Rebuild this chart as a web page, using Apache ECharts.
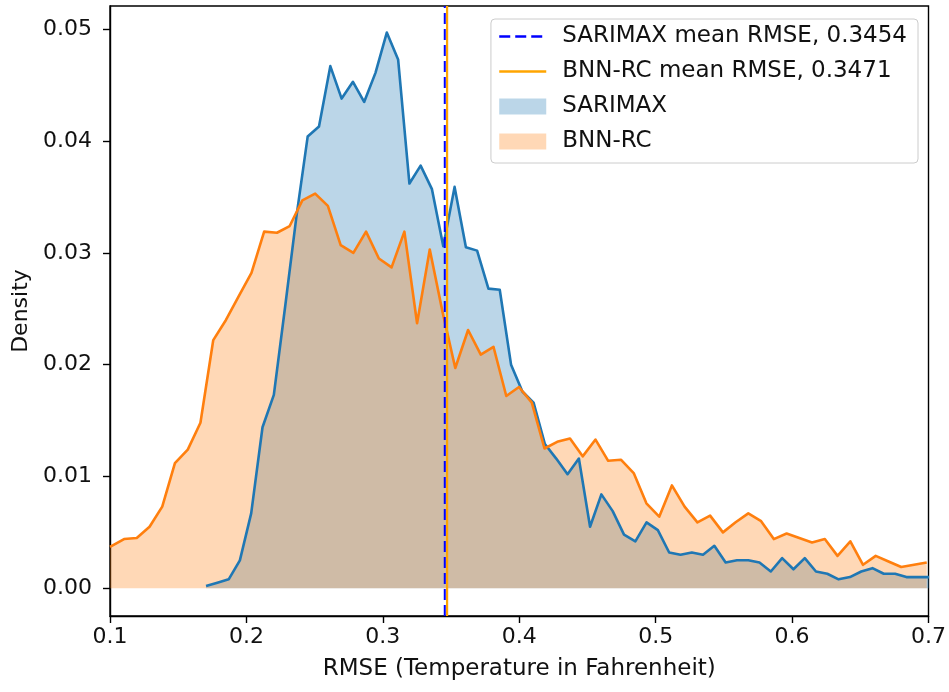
<!DOCTYPE html>
<html>
<head>
<meta charset="utf-8">
<script src="https://cdn.jsdelivr.net/npm/echarts@6/dist/echarts.min.js"></script>
<style>
  html, body { margin: 0; padding: 0; background: #ffffff; }
  #chart { width: 949px; height: 692px; }
</style>
</head>
<body>
<div id="chart"></div>
<script>
// Histogram bin centres (RMSE, degrees F) and normalised densities per model
const sarimaxRmse = [0.1704,0.1787,0.1870,0.1952,0.2035,0.2118,0.2201,0.2284,0.2366,0.2449,
  0.2532,0.2615,0.2698,0.2781,0.2863,0.2946,0.3029,0.3112,0.3195,0.3277,
  0.3360,0.3443,0.3526,0.3609,0.3691,0.3774,0.3857,0.3940,0.4023,0.4105,
  0.4188,0.4271,0.4354,0.4437,0.4519,0.4602,0.4685,0.4768,0.4851,0.4933,
  0.5016,0.5099,0.5182,0.5265,0.5347,0.5430,0.5513,0.5596,0.5679,0.5761,
  0.5844,0.5927,0.6010,0.6093,0.6175,0.6258,0.6341,0.6424,0.6507,0.6589,
  0.6672,0.6755,0.6838,0.6921,0.7004];
const sarimaxDensity = [0.0002,0.0005,0.0008,0.0025,0.0067,0.0144,0.0173,0.0252,0.0332,0.0404,
  0.0413,0.0467,0.0438,0.0453,0.0435,0.0461,0.0497,0.0473,0.0362,0.0378,
  0.0357,0.0306,0.0359,0.0305,0.0302,0.0268,0.0267,0.0200,0.0176,0.0166,
  0.0129,0.0116,0.0102,0.0116,0.0055,0.0084,0.0069,0.0048,0.0042,0.0059,
  0.0052,0.0032,0.0030,0.0032,0.0030,0.0038,0.0023,0.0025,0.0025,0.0023,
  0.0015,0.0027,0.0017,0.0027,0.0015,0.0013,0.0008,0.0010,0.0015,0.0018,
  0.0013,0.0013,0.0010,0.0010,0.0010];

const bnnRmse = [0.1000,0.1103,0.1196,0.1290,0.1383,0.1476,0.1570,0.1663,0.1757,0.1850,
  0.1943,0.2037,0.2130,0.2224,0.2317,0.2410,0.2504,0.2597,0.2691,0.2784,
  0.2877,0.2971,0.3064,0.3158,0.3251,0.3344,0.3438,0.3531,0.3625,0.3718,
  0.3811,0.3905,0.3998,0.4092,0.4185,0.4278,0.4372,0.4465,0.4559,0.4652,
  0.4745,0.4839,0.4932,0.5026,0.5119,0.5212,0.5306,0.5399,0.5493,0.5586,
  0.5679,0.5773,0.5866,0.5960,0.6053,0.6146,0.6240,0.6333,0.6427,0.6520,
  0.6613,0.6707,0.6800,0.6894,0.6987];
const bnnDensity = [0.0037,0.0044,0.0045,0.0055,0.0073,0.0112,0.0124,0.0148,0.0222,0.0240,
  0.0261,0.0282,0.0319,0.0318,0.0324,0.0347,0.0353,0.0342,0.0307,0.0300,
  0.0319,0.0295,0.0287,0.0319,0.0237,0.0303,0.0247,0.0197,0.0231,0.0209,
  0.0216,0.0172,0.0180,0.0166,0.0125,0.0131,0.0134,0.0118,0.0133,0.0114,
  0.0115,0.0103,0.0076,0.0064,0.0092,0.0073,0.0059,0.0065,0.0050,0.0059,
  0.0067,0.0060,0.0044,0.0049,0.0045,0.0041,0.0044,0.0029,0.0042,0.0021,
  0.0029,0.0024,0.0019,0.0021,0.0023];

// Mean RMSE of each model
const sarimaxMean = 0.3454;
const bnnMean = 0.3471;

// Axis limits and tick labels
const xLimits = [0.1, 0.7];
const yLimits = [-0.00248, 0.05208];
const xTicks = [0.1, 0.2, 0.3, 0.4, 0.5, 0.6, 0.7];
const yTicks = [0.00, 0.01, 0.02, 0.03, 0.04, 0.05];

const BLUE = '#1f77b4';
const ORANGE = '#ff7f0e';
const FONT = 'DejaVu Sans';
const NO_MARKER = { color: 'rgba(0,0,0,0)', borderColor: 'rgba(0,0,0,0)', borderWidth: 0 };

const pairs = (xs, ys) => xs.map((x, i) => [x, ys[i]]);
const vline = (x) => [[x, yLimits[0]], [x, yLimits[1]]];

const sarimaxMeanName = 'SARIMAX mean RMSE, ' + sarimaxMean.toFixed(4);
const bnnMeanName = 'BNN-RC mean RMSE, ' + bnnMean.toFixed(4);

const chart = echarts.init(document.getElementById('chart'), null, { renderer: 'canvas' });

chart.setOption({
  animation: false,
  backgroundColor: '#ffffff',
  textStyle: { fontFamily: FONT },
  grid: {
    left: 110, right: 20, top: 6, bottom: 76,
    show: true, borderColor: '#000', borderWidth: 1.4, backgroundColor: 'transparent'
  },
  xAxis: {
    type: 'value',
    min: xLimits[0], max: xLimits[1],
    name: 'RMSE (Temperature in Fahrenheit)',
    nameLocation: 'middle',
    nameGap: 42,
    nameTextStyle: { fontFamily: FONT, fontSize: 23, color: '#111' },
    axisLine: { show: true, onZero: false, lineStyle: { color: '#000', width: 1.4 } },
    axisTick: { show: true, customValues: xTicks, length: 7, lineStyle: { color: '#000', width: 1.4 } },
    axisLabel: {
      customValues: xTicks, margin: 10,
      fontFamily: FONT, fontSize: 22, color: '#111',
      formatter: (v) => v.toFixed(1)
    },
    splitLine: { show: false }
  },
  yAxis: {
    type: 'value',
    min: yLimits[0], max: yLimits[1],
    name: 'Density',
    nameLocation: 'middle',
    nameGap: 78,
    nameTextStyle: { fontFamily: FONT, fontSize: 22, color: '#111' },
    axisLine: { show: true, onZero: false, lineStyle: { color: '#000', width: 1.4 } },
    axisTick: { show: true, customValues: yTicks, length: 7, lineStyle: { color: '#000', width: 1.4 } },
    axisLabel: {
      customValues: yTicks, margin: 18,
      fontFamily: FONT, fontSize: 22, color: '#111',
      formatter: (v) => v.toFixed(2)
    },
    splitLine: { show: false }
  },
  legend: {
    orient: 'vertical',
    right: 31, top: 19,
    padding: [6, 11, 10, 7],
    itemGap: 12,
    itemWidth: 47,
    itemHeight: 16,
    backgroundColor: 'rgba(255,255,255,0.8)',
    borderColor: '#cccccc',
    borderWidth: 1,
    borderRadius: 4,
    selectedMode: false,
    textStyle: { fontFamily: FONT, fontSize: 23, color: '#111', padding: [0, 0, 0, 11] },
    data: [
      { name: sarimaxMeanName, itemStyle: NO_MARKER,
        lineStyle: { color: '#0000ff', width: 2.6, type: [11, 5] } },
      { name: bnnMeanName, itemStyle: NO_MARKER,
        lineStyle: { color: '#ffa500', width: 2.6 } },
      { name: 'SARIMAX', icon: 'rect', itemStyle: { color: 'rgba(31,119,180,0.3)', borderWidth: 0 } },
      { name: 'BNN-RC', icon: 'rect', itemStyle: { color: 'rgba(255,127,14,0.3)', borderWidth: 0 } }
    ]
  },
  series: [
    {
      name: 'SARIMAX',
      type: 'line',
      data: pairs(sarimaxRmse, sarimaxDensity),
      symbol: 'none',
      lineStyle: { width: 0 },
      itemStyle: { color: 'rgba(31,119,180,0.3)' },
      areaStyle: { color: BLUE, opacity: 0.3 },
      z: 1
    },
    {
      name: 'BNN-RC',
      type: 'line',
      data: pairs(bnnRmse, bnnDensity),
      symbol: 'none',
      lineStyle: { width: 0 },
      itemStyle: { color: 'rgba(255,127,14,0.3)' },
      areaStyle: { color: ORANGE, opacity: 0.3 },
      z: 2
    },
    {
      name: 'SARIMAX density',
      type: 'line',
      data: pairs(sarimaxRmse, sarimaxDensity),
      symbol: 'none',
      lineStyle: { color: BLUE, width: 2.6, join: 'round' },
      itemStyle: { color: BLUE },
      z: 3
    },
    {
      name: 'BNN-RC density',
      type: 'line',
      data: pairs(bnnRmse, bnnDensity),
      symbol: 'none',
      lineStyle: { color: ORANGE, width: 2.6, join: 'round' },
      itemStyle: { color: ORANGE },
      z: 4
    },
    {
      name: sarimaxMeanName,
      type: 'line',
      data: vline(sarimaxMean),
      symbol: 'none',
      lineStyle: { color: '#0000ff', width: 2, type: [11, 5] },
      itemStyle: { color: '#0000ff' },
      z: 5
    },
    {
      name: bnnMeanName,
      type: 'line',
      data: vline(bnnMean),
      symbol: 'none',
      lineStyle: { color: '#ffa500', width: 2.2 },
      itemStyle: { color: '#ffa500' },
      z: 6
    }
  ]
});
</script>
</body>
</html>
